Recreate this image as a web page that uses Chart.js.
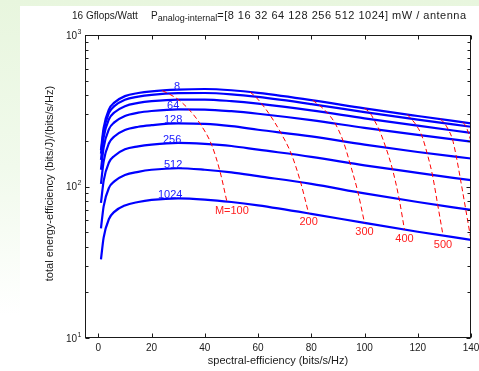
<!DOCTYPE html>
<html>
<head>
<meta charset="utf-8">
<script src="https://cdn.jsdelivr.net/npm/chart.js@4.4.1/dist/chart.umd.min.js"></script>
<style>
html, body { margin: 0; padding: 0; }
body {
    width: 479px; height: 371px; overflow: hidden; position: relative;
    background: linear-gradient(to bottom, #e8f6de 0%, #f1faec 45%, #ffffff 85%);
}
#wrap { position: absolute; left: 20px; top: 6px; width: 459px; height: 365px; background: #fff; }
</style>
</head>
<body>
<div id="wrap"><canvas id="graph" width="459" height="365"></canvas></div>
<script>
// Данные
const xValues = [1, 2, 4, 6, 10, 15, 20, 30, 40, 50, 60, 80, 100, 120, 140];
const powerLabels = ['8', '16', '32', '64', '128', '256', '512', '1024'];
const showLabel = [true, false, false, true, true, true, true, true];

const eeP8    = [174, 244, 323, 358, 395, 414, 425, 436, 440, 432, 415, 372, 328, 292, 261];
const eeP16   = [165, 231, 306, 339, 374, 392, 403, 413, 414, 406, 390, 350, 310, 276, 248];
const eeP32   = [150, 210, 278, 308, 339, 356, 366, 375, 375, 366, 352, 318, 282, 252, 226];
const eeP64   = [129, 181, 239, 265, 292, 307, 315, 323, 322, 314, 302, 274, 244, 219, 198];
const eeP128  = [104, 146, 193, 214, 236, 248, 254, 261, 259, 250, 237, 214, 189, 169, 153];
const eeP256  = [78, 109, 144, 159, 176, 184, 189, 194, 191, 185, 175, 157, 138, 123, 110];
const eeP512  = [53, 74, 98, 108, 119, 125, 129, 132, 129, 124, 117, 104, 90, 79, 70];
const eeP1024 = [33, 46, 61, 68, 75, 79, 81.5, 83.5, 82, 79, 75, 66, 57.5, 50.3, 44.4];

// Линии постоянного числа антенн M (красный пунктир)
const mLabels = ['M=100', '200', '300', '400', '500', '', ''];
const m100x = [24, 26.5, 30, 34, 38.2, 42.5, 45.7, 48.3];
const m100y = [429, 409, 375, 323, 260, 189.5, 126, 79.5];
const m200x = [57, 59, 61.5, 64.5, 68.5, 72.5, 76, 79];
const m200y = [420, 392, 349, 296, 227, 164, 106.6, 66.5];
const m300x = [80.5, 83, 86, 89, 92, 94.5, 97.5, 100];
const m300y = [371, 344, 307, 260, 199, 143, 92, 57.5];
const m400x = [100, 102, 103.5, 105.5, 108, 110.5, 113, 115];
const m400y = [328, 307, 277, 237, 181, 130, 83, 52];
const m500x = [116, 117.5, 119.5, 121.5, 123.5, 125.5, 127.5, 129.5];
const m500y = [299, 280, 253, 217, 166, 119.5, 75.6, 47.5];
const m600x = [128.5, 130, 131.5, 133, 134.5, 136, 138, 140];
const m600y = [279, 262, 237, 206, 157, 112.6, 71, 44.4];
const m700x = [137, 138, 139, 140];
const m700y = [265, 251, 227, 198];

// Оси
const xTicks = [0, 20, 40, 60, 80, 100, 120, 140];
const yMajorTicks = [10, 100, 1000];
const yMajorExp = ['1', '2', '3'];
const yMinorTicks = [20, 30, 40, 50, 60, 70, 80, 90, 200, 300, 400, 500, 600, 700, 800, 900];

const FONT = '"Liberation Sans", Arial, sans-serif';
// сдвиги подписей кривых по x (px)
const labelDx = [-1, 0, 0, -5, -5, -6, -5, -8];

const series = [eeP8, eeP16, eeP32, eeP64, eeP128, eeP256, eeP512, eeP1024];
const mLines = [[m100x, m100y], [m200x, m200y], [m300x, m300y], [m400x, m400y],
                [m500x, m500y], [m600x, m600y], [m700x, m700y]];

const toPoints = (xs, ys) => xs.map((v, i) => ({x: v, y: ys[i]}));

const datasets = [];
series.forEach((s, i) => {
    datasets.push({
        label: 'P=' + powerLabels[i],
        data: toPoints(xValues, s),
        borderColor: '#0000ff',
        borderWidth: 2.2,
        pointRadius: 0,
        cubicInterpolationMode: 'monotone',
        order: 2
    });
});
mLines.forEach((m, i) => {
    datasets.push({
        label: 'M line ' + i,
        data: toPoints(m[0], m[1]),
        borderColor: '#ff0000',
        borderWidth: 1,
        borderDash: [5, 3],
        pointRadius: 0,
        cubicInterpolationMode: 'monotone',
        order: 1
    });
});

// Рамка, засечки, подписи
const axesPlugin = {
    id: 'axesPlugin',
    afterDraw(chart) {
        const {ctx, chartArea: a, scales: {x, y}} = chart;
        const L = Math.round(a.left) + 0.5, R = Math.round(a.right) - 0.5;
        const T = Math.round(a.top) + 0.5, B = Math.round(a.bottom) - 0.5;
        ctx.save();
        ctx.strokeStyle = '#1a1a1a';
        ctx.lineWidth = 1;
        ctx.strokeRect(L, T, R - L, B - T);

        ctx.beginPath();
        xTicks.forEach(v => {
            const px = Math.round(x.getPixelForValue(v)) + 0.5;
            ctx.moveTo(px, B); ctx.lineTo(px, B - 4);
            ctx.moveTo(px, T); ctx.lineTo(px, T + 4);
        });
        yMajorTicks.forEach(v => {
            const py = Math.round(y.getPixelForValue(v)) + 0.5;
            ctx.moveTo(L, py); ctx.lineTo(L + 4, py);
            ctx.moveTo(R, py); ctx.lineTo(R - 4, py);
        });
        yMinorTicks.forEach(v => {
            const py = Math.round(y.getPixelForValue(v)) + 0.5;
            ctx.moveTo(L, py); ctx.lineTo(L + 3, py);
            ctx.moveTo(R, py); ctx.lineTo(R - 3, py);
        });
        ctx.stroke();

        ctx.fillStyle = '#1a1a1a';
        ctx.font = '10px ' + FONT;
        ctx.textAlign = 'center';
        ctx.textBaseline = 'middle';
        xTicks.forEach(v => {
            ctx.fillText(String(v), x.getPixelForValue(v), B + 11);
        });

        yMajorTicks.forEach((v, i) => {
            const py = y.getPixelForValue(v);
            ctx.font = '10px ' + FONT;
            ctx.textAlign = 'right';
            ctx.fillText('10', L - 8.5, py + 1);
            ctx.font = '7px ' + FONT;
            ctx.textAlign = 'left';
            ctx.fillText(yMajorExp[i], L - 8, py - 3);
        });

        ctx.font = '11px ' + FONT;
        ctx.textAlign = 'center';
        ctx.fillText('spectral-efficiency (bits/s/Hz)', (a.left + a.right) / 2, B + 23);
        ctx.save();
        ctx.translate(30, (a.top + a.bottom) / 2 - 3);
        ctx.rotate(-Math.PI / 2);
        ctx.fillText('total energy-efficiency (bits/J)/(bits/s/Hz)', 0, 0);
        ctx.restore();

        // Заголовок
        ctx.textAlign = 'left';
        const ty = 10;
        ctx.font = '10px ' + FONT;
        ctx.fillText('16 Gflops/Watt', 52, ty);
        let tx = 131;
        ctx.fillText('P', tx, ty);
        tx += ctx.measureText('P').width;
        ctx.font = '9px ' + FONT;
        ctx.fillText('analog-internal', tx, ty + 3);
        tx += ctx.measureText('analog-internal').width;
        ctx.font = '11px ' + FONT;
        ctx.letterSpacing = '0.5px';
        ctx.fillText('=[8 16 32 64 128 256 512 1024] mW / antenna', tx, ty);
        ctx.letterSpacing = '0px';

        // Подписи кривых
        ctx.font = '11px ' + FONT;
        ctx.textAlign = 'center';
        ctx.fillStyle = '#2020ff';
        series.forEach((s, i) => {
            if (!showLabel[i]) return;
            ctx.fillText(powerLabels[i], x.getPixelForValue(xValues[7]) + labelDx[i], y.getPixelForValue(s[7]) - 3);
        });

        ctx.fillStyle = '#ff2020';
        mLines.forEach((m, i) => {
            if (!mLabels[i]) return;
            const n = m[0].length - 1;
            const dx = i === 0 ? 5 : 0;
            ctx.fillText(mLabels[i], x.getPixelForValue(m[0][n]) + dx, y.getPixelForValue(m[1][n]) + 9);
        });
        ctx.restore();
    }
};

new Chart(document.getElementById('graph'), {
    type: 'line',
    data: { datasets: datasets },
    options: {
        responsive: false,
        devicePixelRatio: 1,
        animation: false,
        layout: { padding: { left: 65, right: 8, top: 29, bottom: 33 } },
        scales: {
            x: { type: 'linear', min: -5, max: 140, display: false },
            y: { type: 'logarithmic', min: 10, max: 1000, display: false }
        },
        plugins: {
            legend: { display: false },
            title: { display: false },
            tooltip: { enabled: false }
        }
    },
    plugins: [axesPlugin]
});
</script>
</body>
</html>
